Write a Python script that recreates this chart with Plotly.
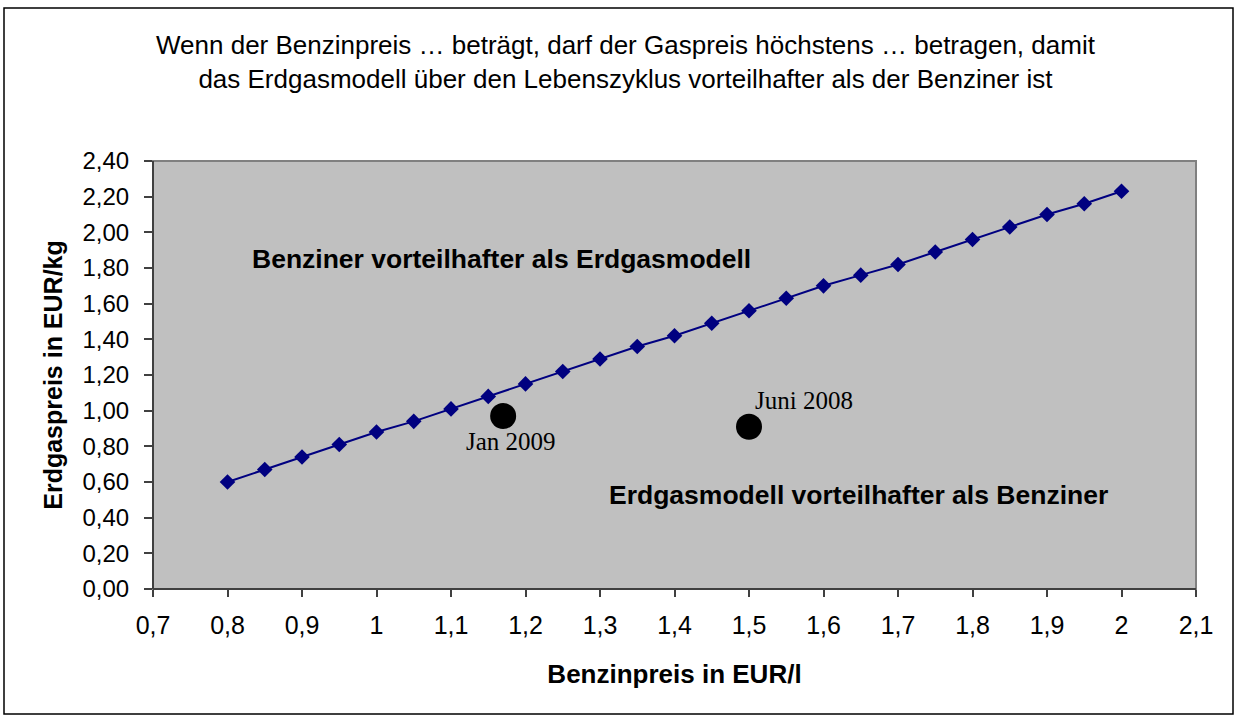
import plotly.graph_objects as go

# Data
benzin = [0.80, 0.85, 0.90, 0.95, 1.00, 1.05, 1.10, 1.15, 1.20, 1.25, 1.30, 1.35, 1.40,
          1.45, 1.50, 1.55, 1.60, 1.65, 1.70, 1.75, 1.80, 1.85, 1.90, 1.95, 2.00]
gas_max = [0.60, 0.67, 0.74, 0.81, 0.88, 0.94, 1.01, 1.08, 1.15, 1.22, 1.29, 1.36, 1.42,
           1.49, 1.56, 1.63, 1.70, 1.76, 1.82, 1.89, 1.96, 2.03, 2.10, 2.16, 2.23]
point_labels = ["Jan 2009", "Juni 2008"]
point_benzin = [1.17, 1.50]
point_gas = [0.97, 0.91]

x_ticks = [0.7, 0.8, 0.9, 1.0, 1.1, 1.2, 1.3, 1.4, 1.5, 1.6, 1.7, 1.8, 1.9, 2.0, 2.1]
x_ticktext = ["0,7", "0,8", "0,9", "1", "1,1", "1,2", "1,3", "1,4", "1,5", "1,6", "1,7",
              "1,8", "1,9", "2", "2,1"]
y_ticks = [0.0, 0.2, 0.4, 0.6, 0.8, 1.0, 1.2, 1.4, 1.6, 1.8, 2.0, 2.2, 2.4]
y_ticktext = ["0,00", "0,20", "0,40", "0,60", "0,80", "1,00", "1,20", "1,40", "1,60",
              "1,80", "2,00", "2,20", "2,40"]

W, H = 1237, 715
L, R, T, B = 153, 41, 161, 126
pw, ph = W - L - R, H - T - B

def px_x(p):
    return (p - L) / pw

def px_y(p):
    return (H - B - p) / ph

fig = go.Figure()
fig.add_trace(go.Scatter(
    x=benzin, y=gas_max, mode="lines+markers",
    line=dict(color="#000080", width=2),
    marker=dict(symbol="diamond", size=12, color="#000080"),
    showlegend=False, hoverinfo="skip"))
fig.add_trace(go.Scatter(
    x=point_benzin, y=point_gas, mode="markers",
    marker=dict(symbol="circle", size=26, color="black"),
    showlegend=False, hoverinfo="skip"))

serif = "Liberation Serif, Times New Roman, serif"
sans = "Liberation Sans, Arial, sans-serif"

# point labels
fig.add_annotation(x=point_benzin[0], y=point_gas[0], text=point_labels[0], showarrow=False,
                   xshift=8, yshift=-25, font=dict(family=serif, size=25, color="black"))
fig.add_annotation(x=point_benzin[1], y=point_gas[1], text=point_labels[1], showarrow=False,
                   xshift=55, yshift=26, font=dict(family=serif, size=25, color="black"))

# region labels
fig.add_annotation(x=px_x(250), y=px_y(259), xref="paper", yref="paper",
                   xanchor="left", yanchor="middle",
                   text="<b>Benziner vorteilhafter als Erdgasmodell</b>", showarrow=False,
                   font=dict(family=sans, size=26.5, color="black"))
fig.add_annotation(x=px_x(607), y=px_y(495), xref="paper", yref="paper",
                   xanchor="left", yanchor="middle",
                   text="<b>Erdgasmodell vorteilhafter als Benziner</b>", showarrow=False,
                   font=dict(family=sans, size=26.5, color="black"))

# title
fig.add_annotation(x=px_x(626), y=px_y(62), xref="paper", yref="paper",
                   xanchor="center", yanchor="middle",
                   text="Wenn der Benzinpreis … beträgt, darf der Gaspreis höchstens … betragen, damit<br>"
                        "das Erdgasmodell über den Lebenszyklus vorteilhafter als der Benziner ist",
                   showarrow=False, align="center",
                   font=dict(family=sans, size=26, color="black"))

# plot frame (gray) and outer border
fig.add_shape(type="rect", xref="paper", yref="paper", x0=0, x1=1, y0=0, y1=1,
              line=dict(color="#808080", width=2), layer="above")
fig.add_shape(type="line", xref="paper", yref="paper", x0=0, x1=0, y0=0, y1=1,
              line=dict(color="#404040", width=2), layer="above")
fig.add_shape(type="line", xref="paper", yref="paper", x0=0, x1=1, y0=0, y1=0,
              line=dict(color="#404040", width=2), layer="above")
fig.add_shape(type="rect", xref="paper", yref="paper",
              x0=px_x(4), x1=px_x(1233), y0=px_y(714), y1=px_y(8),
              line=dict(color="black", width=1.5))

fig.update_layout(
    width=W, height=H,
    margin=dict(l=L, r=R, t=T, b=B),
    paper_bgcolor="white", plot_bgcolor="#C0C0C0",
    font=dict(family=sans, color="black"),
)
fig.update_xaxes(
    range=[0.7, 2.1], tickvals=x_ticks, ticktext=x_ticktext,
    showgrid=False, zeroline=False, showline=False,
    ticks="outside", ticklen=7, tickcolor="#404040", tickwidth=1.5,
    ticklabelstandoff=7,
    tickfont=dict(family=sans, size=25, color="black"),
    title=dict(text="<b>Benzinpreis in EUR/l</b>", standoff=26,
               font=dict(family=sans, size=26, color="black")),
)
fig.update_yaxes(
    range=[0, 2.4], tickvals=y_ticks, ticktext=y_ticktext,
    showgrid=False, zeroline=False, showline=False,
    ticks="outside", ticklen=8, tickcolor="#404040", tickwidth=1.5,
    ticklabelstandoff=10,
    tickfont=dict(family=sans, size=24, color="black"),
    title=dict(text="<b>Erdgaspreis in EUR/kg</b>", standoff=12,
               font=dict(family=sans, size=25, color="black")),
)

fig.write_html("out.html", config={"displayModeBar": False},
               post_script="document.body.style.margin='0px';document.body.style.overflow='hidden';")
